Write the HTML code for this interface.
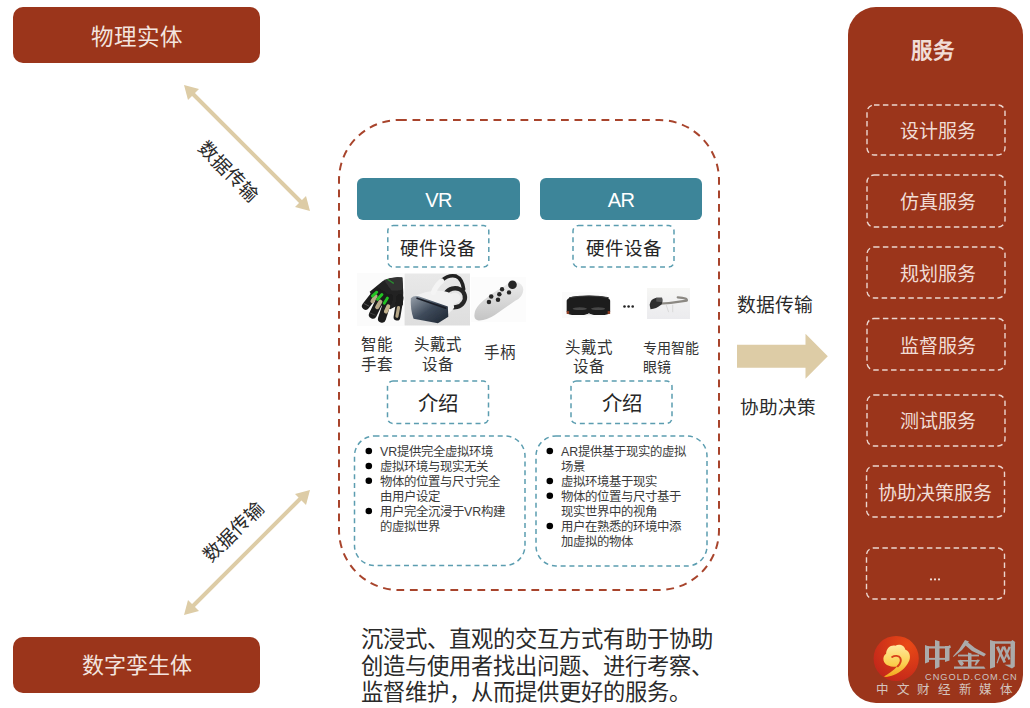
<!DOCTYPE html>
<html lang="zh-CN"><head><meta charset="utf-8">
<style>
html,body{margin:0;padding:0;}
body{width:1030px;height:708px;position:relative;overflow:hidden;background:#fff;font-family:"Liberation Sans",sans-serif;color:#262626;}
.a{position:absolute;}
.rb{background:#9b351b;border-radius:10px;color:#f3e4df;text-align:center;}
.hdr{background:#3d8599;border-radius:6px;color:#fff;text-align:center;font-size:20px;line-height:45px;letter-spacing:-0.6px;}
.c{text-align:center;white-space:nowrap;}
svg{position:absolute;left:0;top:0;}
.svc{color:#f1ddd6;font-size:19px;text-align:center;white-space:nowrap;}
.lbl{font-size:15.5px;line-height:20px;white-space:nowrap;color:#333;}
.bl{font-size:12.4px;line-height:15px;color:#3a3a3a;white-space:nowrap;}
.bl div{position:relative;padding-left:0;}
</style></head><body>

<!-- left boxes -->
<div class="a rb" style="left:13px;top:7px;width:247px;height:56px;line-height:61px;font-size:22.5px;">物理实体</div>
<div class="a rb" style="left:13px;top:637px;width:247px;height:56px;line-height:58px;font-size:22px;">数字孪生体</div>

<!-- right panel -->
<div class="a" style="left:848px;top:7px;width:175px;height:696px;background:#9b351b;border-radius:28px;"></div>

<svg width="1030" height="708" viewBox="0 0 1030 708">
  <!-- main dashed rect -->
  <rect x="339" y="120" width="380" height="470" rx="60" ry="60" fill="none" stroke="#a8442c" stroke-width="2" stroke-dasharray="7.8 5.7"/>
  <!-- small dashed boxes -->
  <g fill="none" stroke="#5b9db0" stroke-width="1.5" stroke-dasharray="5 3.8">
    <rect x="387.8" y="225.6" width="101" height="41.5" rx="5.5"/>
    <rect x="573" y="225.6" width="101" height="41.5" rx="5.5"/>
    <rect x="387.5" y="381" width="101" height="42.5" rx="5.5"/>
    <rect x="571" y="381" width="101" height="42.5" rx="5.5"/>
    <rect x="354.5" y="436" width="170.5" height="129.5" rx="20"/>
    <rect x="536" y="436" width="171" height="130" rx="20"/>
  </g>
  <!-- service dashed -->
  <g fill="none" stroke="#ecd6cf" stroke-width="1.4" stroke-dasharray="5.5 3.4">
    <rect x="867" y="105" width="138" height="50" rx="7"/>
    <rect x="867" y="175" width="138" height="52" rx="7"/>
    <rect x="867" y="247" width="138" height="51" rx="7"/>
    <rect x="867" y="318.5" width="138" height="51.5" rx="7"/>
    <rect x="867" y="395" width="138" height="51" rx="7"/>
    <rect x="866.5" y="466" width="138" height="51" rx="7"/>
    <rect x="866.5" y="548" width="138" height="51" rx="7"/>
  </g>
  <!-- right arrow -->
  <polygon points="737,344.7 805.5,344.7 805.5,333.7 827.8,356.2 805.5,378.8 805.5,367.8 737,367.8" fill="#ddcca6"/>
  <!-- diagonal arrows -->
  <g stroke="#ddcca6" stroke-width="4" fill="#ddcca6">
    <line x1="192" y1="93" x2="302" y2="203"/>
    <line x1="192" y1="607" x2="302" y2="497"/>
  </g>
  <g fill="#ddcca6">
    <polygon points="184,85 199,89 188,100"/>
    <polygon points="310,211 295,207 306,196"/>
    <polygon points="310,490 306,505 295,494"/>
    <polygon points="184,615 188,600 199,611"/>
  </g>
</svg>

<!-- headers -->
<div class="a hdr" style="left:357px;top:178px;width:163px;height:42px;">VR</div>
<div class="a hdr" style="left:540px;top:178px;width:162px;height:42px;">AR</div>

<div class="a c" style="left:387px;top:238px;width:102px;font-size:18.5px;line-height:22px;">硬件设备</div>
<div class="a c" style="left:573px;top:238px;width:102px;font-size:18.5px;line-height:22px;">硬件设备</div>
<div class="a c" style="left:387px;top:393px;width:102px;font-size:20.4px;line-height:22px;">介绍</div>
<div class="a c" style="left:571px;top:393px;width:102px;font-size:20.4px;line-height:22px;">介绍</div>

<!-- labels -->
<div class="a lbl" style="left:361px;top:335px;">智能<br>手套</div>
<div class="a lbl c" style="left:408px;top:335px;width:60px;">头戴式<br>设备</div>
<div class="a lbl" style="left:484px;top:343px;">手柄</div>
<div class="a lbl c" style="left:559px;top:339px;width:60px;line-height:18.5px;">头戴式<br>设备</div>
<div class="a lbl" style="left:643px;top:339px;font-size:14px;line-height:18.5px;">专用智能<br>眼镜</div>

<!-- bullets -->
<div class="a bl" style="left:380px;top:445px;">
<div>VR提供完全虚拟环境</div><div>虚拟环境与现实无关</div><div>物体的位置与尺寸完全</div><div>由用户设定</div><div>用户完全沉浸于VR构建</div><div>的虚拟世界</div>
</div>
<div class="a bl" style="left:561px;top:445px;">
<div>AR提供基于现实的虚拟</div><div>场景</div><div>虚拟环境基于现实</div><div>物体的位置与尺寸基于</div><div>现实世界中的视角</div><div>用户在熟悉的环境中添</div><div>加虚拟的物体</div>
</div>

<!-- bottom paragraph -->
<div class="a" style="left:361px;top:627px;font-size:22.3px;line-height:26.5px;color:#2a2a2a;white-space:nowrap;">沉浸式、直观的交互方式有助于协助<br>创造与使用者找出问题、进行考察、<br>监督维护，从而提供更好的服务。</div>

<!-- arrow labels -->
<div class="a" style="left:737px;top:295px;font-size:18.8px;line-height:22px;white-space:nowrap;color:#2a2a2a;">数据传输</div>
<div class="a" style="left:740px;top:397px;font-size:18.6px;line-height:22px;white-space:nowrap;color:#2a2a2a;">协助决策</div>

<!-- services text -->
<div class="a svc" style="left:845px;top:37.5px;width:175px;font-size:21.5px;font-weight:bold;line-height:26px;">服务</div>
<div class="a svc" style="left:869px;top:121px;width:138px;line-height:22px;">设计服务</div>
<div class="a svc" style="left:869px;top:192px;width:138px;line-height:22px;">仿真服务</div>
<div class="a svc" style="left:869px;top:264px;width:138px;line-height:22px;">规划服务</div>
<div class="a svc" style="left:869px;top:336px;width:138px;line-height:22px;">监督服务</div>
<div class="a svc" style="left:869px;top:411px;width:138px;line-height:22px;">测试服务</div>
<div class="a svc" style="left:866px;top:483px;width:138px;line-height:22px;">协助决策服务</div>
<svg width="1030" height="708" viewBox="0 0 1030 708"><g fill="#efdcd6"><circle cx="931" cy="579.4" r="1.1"/><circle cx="935" cy="579.4" r="1.1"/><circle cx="939" cy="579.4" r="1.1"/></g></svg>


<!-- bullet dots -->
<svg width="1030" height="708" viewBox="0 0 1030 708" style="pointer-events:none">
<g fill="#000">
<circle cx="368.8" cy="451" r="3.3"/><circle cx="368.8" cy="466" r="3.3"/><circle cx="368.8" cy="480.8" r="3.3"/><circle cx="368.8" cy="511" r="3.3"/>
<circle cx="549.8" cy="451" r="3.3"/><circle cx="549.8" cy="481" r="3.3"/><circle cx="549.8" cy="495.8" r="3.3"/><circle cx="549.8" cy="526" r="3.3"/>
</g>
</svg>
<!-- rotated labels -->
<div class="a" style="left:187.5px;top:161px;width:80px;height:22px;line-height:22px;font-size:18.8px;text-align:center;transform:rotate(45deg);white-space:nowrap;color:#2a2a2a;">数据传输</div>
<div class="a" style="left:194px;top:521px;width:80px;height:22px;line-height:22px;font-size:18.8px;text-align:center;transform:rotate(-45deg);white-space:nowrap;color:#2a2a2a;">数据传输</div>

<!-- images -->
<svg width="1030" height="708" viewBox="0 0 1030 708">
<defs>
<linearGradient id="hsbg" x1="0" y1="0" x2="0" y2="1"><stop offset="0" stop-color="#e9e9e9"/><stop offset="1" stop-color="#dedede"/></linearGradient>
<linearGradient id="hsface" x1="0" y1="0" x2="1" y2="1"><stop offset="0" stop-color="#9aa3ad"/><stop offset="0.5" stop-color="#3e4a5a"/><stop offset="1" stop-color="#1c2430"/></linearGradient>
<linearGradient id="ctrl" x1="0" y1="0" x2="0" y2="1"><stop offset="0" stop-color="#ececec"/><stop offset="1" stop-color="#c4c4c4"/></linearGradient>
<linearGradient id="glbg" x1="0" y1="0" x2="0" y2="1"><stop offset="0" stop-color="#f6f6f4"/><stop offset="1" stop-color="#ebebee"/></linearGradient>
<filter id="bl" x="-10%" y="-10%" width="120%" height="120%"><feGaussianBlur stdDeviation="0.6"/></filter>
</defs>
<!-- glove -->
<g filter="url(#bl)">
<rect x="357" y="273" width="47" height="53" fill="#fbfbfb"/>
<g transform="translate(357,272) scale(0.0791)" stroke-linecap="round" fill="none">
<path d="M160,250 L330,110 Q450,50 575,70 L585,260 L580,420 L500,430 L420,470 L300,420 L200,330 Z" fill="#202020"/>
<path d="M340,100 Q450,55 570,70 L580,220 Q500,250 430,230 Z" fill="#303030"/>
<path d="M390,95 L460,140" stroke="#2a8a30" stroke-width="18"/>
<line x1="250" y1="250" x2="110" y2="430" stroke="#1c1c1c" stroke-width="95"/>
<line x1="320" y1="290" x2="200" y2="540" stroke="#1c1c1c" stroke-width="100"/>
<line x1="400" y1="330" x2="315" y2="590" stroke="#1c1c1c" stroke-width="100"/>
<line x1="545" y1="330" x2="505" y2="570" stroke="#1c1c1c" stroke-width="85"/>
<line x1="235" y1="305" x2="195" y2="370" stroke="#b9a98a" stroke-width="50"/>
<line x1="295" y1="375" x2="255" y2="445" stroke="#b9a98a" stroke-width="52"/>
<line x1="395" y1="435" x2="365" y2="500" stroke="#c4b48e" stroke-width="50"/>
<line x1="525" y1="450" x2="505" y2="560" stroke="#b5a687" stroke-width="40"/>
<line x1="250" y1="255" x2="195" y2="305" stroke="#24c424" stroke-width="36"/>
<line x1="315" y1="285" x2="260" y2="345" stroke="#24c424" stroke-width="38"/>
<line x1="385" y1="330" x2="345" y2="395" stroke="#24c424" stroke-width="36"/>
<line x1="90" y1="400" x2="150" y2="430" stroke="#555" stroke-width="12"/>
<line x1="170" y1="520" x2="230" y2="545" stroke="#444" stroke-width="12"/>
</g>
</g>
<!-- VR headset -->
<g filter="url(#bl)">
<rect x="404.5" y="273.5" width="65.5" height="52" fill="url(#hsbg)"/>
<g transform="translate(400,268) scale(0.0903)" fill="none" stroke-linecap="round">
<ellipse cx="605" cy="330" rx="115" ry="105" stroke="#252525" stroke-width="48" transform="rotate(-15 605 330)"/>
<ellipse cx="600" cy="335" rx="70" ry="60" fill="#f0f0f0" transform="rotate(-15 600 335)"/>
<path d="M150,320 Q300,240 470,255 Q540,262 580,300 L600,440 Q580,470 540,500 L420,610 L150,560 Z" fill="#f1f1f1"/>
<path d="M460,140 Q540,70 620,90 Q690,120 705,235" stroke="#242424" stroke-width="40"/>
<path d="M370,270 Q400,190 460,145" stroke="#f4f4f4" stroke-width="58"/>
<path d="M120,335 Q150,300 205,312 L530,425 L535,540 L420,612 L150,562 Q112,450 120,335 Z" fill="url(#hsface)"/>
<path d="M190,335 L505,445" stroke="#1a1f28" stroke-width="20"/>
</g>
</g>
<!-- controller -->
<g filter="url(#bl)">
<rect x="471" y="277" width="55" height="45" fill="#fcfcfc"/>
<g transform="translate(465,268) scale(0.0904)">
<path d="M105,540 Q95,470 160,400 Q260,300 420,210 Q500,150 560,150 Q640,170 645,240 Q640,320 560,360 Q460,430 330,520 Q230,585 150,580 Q110,575 105,540 Z" fill="url(#ctrl)"/>
<g fill="#262626">
<circle cx="525" cy="185" r="48"/>
<circle cx="410" cy="235" r="24"/><circle cx="487" cy="270" r="24"/><circle cx="380" cy="290" r="25"/>
<circle cx="290" cy="315" r="25"/><circle cx="365" cy="350" r="25"/><circle cx="265" cy="375" r="25"/>
</g>
</g>
</g>
<!-- hololens -->
<g filter="url(#bl)">
<rect x="562" y="292" width="45" height="26" fill="#fbfbfb"/>
<g transform="translate(555,280) scale(0.0707)">
<path d="M165,290 Q180,240 300,230 Q480,215 660,230 Q770,245 780,290 L780,450 Q775,490 700,495 L550,495 L480,478 L410,495 L240,495 Q170,490 165,450 Z" fill="#1d1d1d"/>
<ellipse cx="350" cy="405" rx="100" ry="20" fill="#474747"/><ellipse cx="610" cy="405" rx="100" ry="20" fill="#474747"/>
<path d="M430,500 L480,470 L530,500 Z" fill="#e0e0e0"/>
<path d="M200,250 Q480,200 760,250" fill="none" stroke="#3a3a3a" stroke-width="14"/>
<rect x="165" y="440" width="35" height="40" fill="#8f3d22"/>
<rect x="745" y="440" width="35" height="40" fill="#8f3d22"/>
</g>
</g>
<g fill="#222"><circle cx="624.5" cy="306.5" r="1.3"/><circle cx="628.6" cy="306.5" r="1.3"/><circle cx="632.7" cy="306.5" r="1.3"/></g>
<!-- glass -->
<g filter="url(#bl)">
<rect x="647" y="288" width="43" height="31" fill="url(#glbg)"/>
<g transform="translate(615,280) scale(0.0825)" fill="none">
<path d="M500,290 Q700,280 870,250 Q890,220 760,210" stroke="#8c8983" stroke-width="26" stroke-linecap="round"/>
<path d="M420,300 Q430,230 500,215 L570,215 Q585,270 560,300 Q500,350 430,355 Z" fill="#2e2e2e"/>
<path d="M500,215 L570,215 Q580,250 565,270 L500,260 Z" fill="#555"/>
<path d="M620,300 L650,390 M700,300 L700,390" stroke="#d8d8d8" stroke-width="12"/>
</g>
</g>
</svg>

<!-- logo -->
<svg width="1030" height="708" viewBox="0 0 1030 708">
<defs>
<radialGradient id="lgc" cx="0.75" cy="0.2" r="0.9"><stop offset="0" stop-color="#ea4a16"/><stop offset="1" stop-color="#c2261a"/></radialGradient>
<linearGradient id="lgy" x1="0" y1="0" x2="0" y2="1"><stop offset="0" stop-color="#ffe9a0"/><stop offset="0.6" stop-color="#fbcf4e"/><stop offset="1" stop-color="#f2a51c"/></linearGradient>
</defs>
<circle cx="896.2" cy="658.5" r="22.6" fill="url(#lgc)"/>
<g transform="translate(868,630) scale(0.0805)">
<path d="M260,445 C190,430 165,330 225,295 C225,225 285,180 340,195 C385,165 455,190 465,245 C525,265 535,345 505,395 C470,470 400,530 320,560 C275,575 225,590 198,578 C250,545 320,505 365,450 C320,462 285,458 260,445 Z" fill="url(#lgy)"/>
<path d="M300,335 C330,315 385,315 402,350 C415,380 400,420 370,450" fill="none" stroke="#d8401a" stroke-width="24" stroke-linecap="round"/>
</g>
</svg>
<svg width="1030" height="708" viewBox="0 0 1030 708"><g fill="#ababab">
<!-- 中 -->
<polygon points="925,645 929,646.5 929,662 925,663.5"/>
<polygon points="925,646.3 948,646.3 950,645 951,647.5 949,648.4 925,648.4"/>
<polygon points="945,646 949.5,646 949.5,660.5 945,662"/>
<rect x="928" y="657.9" width="18" height="1.9"/>
<polygon points="935,640 939.5,641.2 939.5,667 935,669"/>
<!-- 金 -->
<polygon points="965,640 969,641.5 962,650 953.5,657 953,656.3 959,649.5"/>
<polygon points="968,642.5 975,648 986,654 984,656.5 972,651 965,645"/>
<rect x="958" y="654.6" width="21" height="1.8"/>
<rect x="961" y="660" width="17" height="1.6"/>
<polygon points="968,652.5 971.5,653.5 971.5,667 968,667"/>
<polygon points="954,666.6 984,666.6 985.5,668.8 954,668.8"/>
<polygon points="957.5,660.5 961,659.8 964,663.5 962,666 960,665"/>
<polygon points="980,660 976,665.5 974.5,665 977,659.5"/>
<!-- 网 -->
<polygon points="990,640 995,641.5 995,667 990,668.8"/>
<polygon points="994,641.2 1011,641.2 1012.5,640 1015.5,642.3 1013,643.8 994,643.8"/>
<polygon points="1010.5,642 1015,642.5 1014.8,666.5 1012,668.5 1004.5,664.8 1010.5,664.5"/>
<polygon points="996,647.5 998.5,646 1006,662 1003.5,663"/>
<polygon points="1002,646.5 1005,646.5 1000,657 997.5,663.5 996.5,663"/>
<polygon points="1003,647.5 1005,646 1010.5,659 1008.5,660"/>
<polygon points="1008.5,646.5 1011,647 1006.5,657 1004.5,660 1003.5,659.5"/>
</g></svg>
<div class="a" style="left:925px;top:672px;font-size:9.2px;line-height:11px;color:#cbc4c2;letter-spacing:1.05px;white-space:nowrap;">CNGOLD.COM.CN</div>
<div class="a" style="left:876px;top:683px;font-size:12.5px;line-height:14px;color:#d4c4bf;letter-spacing:7.7px;white-space:nowrap;">中文财经新媒体</div>
</body></html>
